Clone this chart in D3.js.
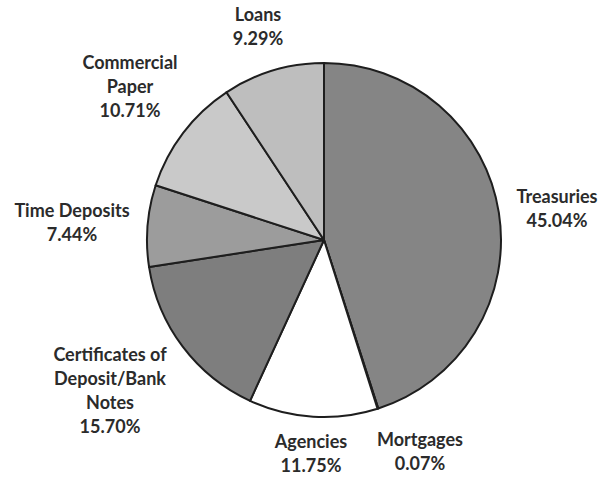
<!DOCTYPE html>
<html><head><meta charset="utf-8">
<script src="https://cdn.jsdelivr.net/npm/d3@7"></script>
<style>body{margin:0;background:#fff;}svg{display:block;}</style>
</head><body>
<svg id="chart" width="608" height="478"></svg>
<script>
const categories = ["Treasuries","Mortgages","Agencies","Certificates of Deposit/Bank Notes","Time Deposits","Commercial Paper","Loans"];
const values = [45.04, 0.07, 11.75, 15.70, 7.44, 10.71, 9.29];
const labelLines = [["Treasuries"],["Mortgages"],["Agencies"],["Certificates of","Deposit/Bank","Notes"],["Time Deposits"],["Commercial","Paper"],["Loans"]];
const colors = ["#858585","#858585","#ffffff","#7e7e7e","#9c9c9c","#c9c9c9","#bebebe"];
const labelPos = [[557,197],[420,440],[311,442],[110,355],[72,211],[130,63],[258,15]];

const svg = d3.select("#chart");
const cx = 324, cy = 240, r = 177;
const pie = d3.pie().sort(null).value(d => d)(values);
const arc = d3.arc().innerRadius(0).outerRadius(r);
const g = svg.append("g").attr("transform", `translate(${cx},${cy})`);
g.selectAll("path").data(pie).join("path")
  .attr("d", arc)
  .attr("fill", (d,i) => colors[i])
  .attr("stroke", "#1e1e1e")
  .attr("stroke-width", 2)
  .attr("stroke-linejoin", "round");

const lh = 24;
labelLines.forEach((lines, i) => {
  const all = lines.concat([values[i].toFixed(2) + "%"]);
  const t = svg.append("text")
    .attr("text-anchor", "middle")
    .attr("font-family", "Lato, sans-serif")
    .attr("font-weight", "bold")
    .attr("font-size", 18)
    .attr("fill", "#2b2b2b");
  all.forEach((s, j) => {
    t.append("tspan").attr("x", labelPos[i][0]).attr("y", labelPos[i][1] + j*lh + 6).text(s);
  });
});
</script>
</body></html>
